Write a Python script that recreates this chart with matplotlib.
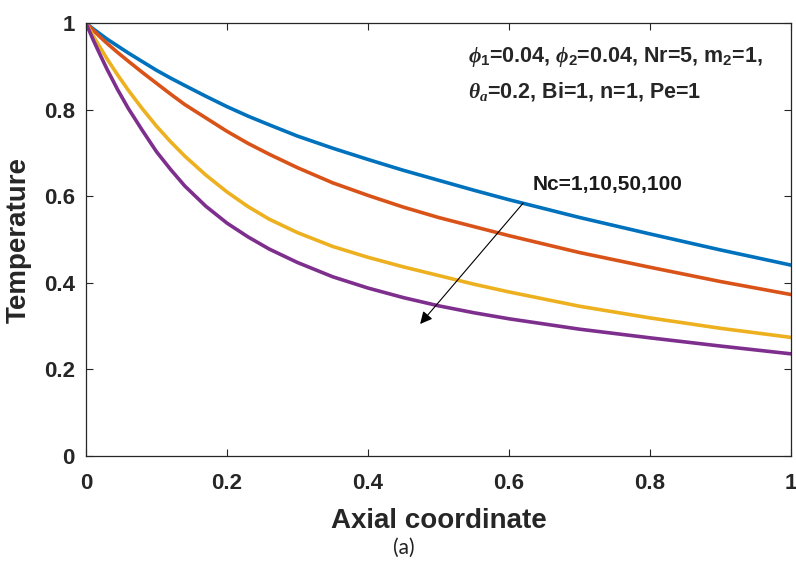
import numpy as np
import matplotlib
matplotlib.use("Agg")
import matplotlib.pyplot as plt

plt.rcParams["font.family"] = ["Liberation Sans", "DejaVu Sans"]
plt.rcParams["font.weight"] = "bold"
plt.rcParams["mathtext.fontset"] = "custom"
plt.rcParams["mathtext.rm"] = "Liberation Sans:bold"
plt.rcParams["mathtext.bf"] = "Liberation Sans:bold"
plt.rcParams["mathtext.it"] = "Liberation Serif:italic"

# axial coordinate samples
axial = [0, 0.01, 0.02, 0.03, 0.045, 0.06, 0.08, 0.1, 0.12, 0.14, 0.17, 0.2,
         0.23, 0.26, 0.3, 0.35, 0.4, 0.45, 0.5, 0.55, 0.6, 0.7, 0.8, 0.9, 1.0]

# temperature profiles for Nc = 1, 10, 50, 100
temp_nc1 = [1, 0.987, 0.975, 0.963, 0.947, 0.931, 0.911, 0.891, 0.873, 0.856, 0.831, 0.807,
            0.785, 0.765, 0.739, 0.711, 0.685, 0.660, 0.637, 0.614, 0.592, 0.551, 0.513, 0.476, 0.441]
temp_nc10 = [1, 0.984, 0.968, 0.953, 0.932, 0.912, 0.886, 0.861, 0.836, 0.812, 0.781, 0.750,
             0.722, 0.697, 0.666, 0.631, 0.602, 0.575, 0.551, 0.530, 0.509, 0.470, 0.436, 0.403, 0.373]
temp_nc50 = [1, 0.971, 0.944, 0.917, 0.880, 0.845, 0.802, 0.762, 0.726, 0.693, 0.649, 0.610,
             0.576, 0.547, 0.516, 0.484, 0.459, 0.437, 0.417, 0.397, 0.379, 0.346, 0.319, 0.295, 0.274]
temp_nc100 = [1, 0.962, 0.927, 0.893, 0.846, 0.803, 0.752, 0.703, 0.662, 0.624, 0.577, 0.538,
              0.506, 0.478, 0.447, 0.414, 0.388, 0.366, 0.347, 0.331, 0.317, 0.293, 0.273, 0.254, 0.236]

profiles = [temp_nc1, temp_nc10, temp_nc50, temp_nc100]
colors = ["#0072BD", "#D95319", "#EDB120", "#7E2F8E"]

ticks = [0, 0.2, 0.4, 0.6, 0.8, 1]
tick_labels = ["0", "0.2", "0.4", "0.6", "0.8", "1"]

fig = plt.figure(figsize=(7.96, 5.63), dpi=100)
ax = fig.add_axes([0.108, 0.19, 0.8857, 0.769])

for temp, c in zip(profiles, colors):
    ax.plot(axial, temp, color=c, lw=2.6, solid_joinstyle="round")

ax.set_xlim(0, 1)
ax.set_ylim(0, 1)
ax.set_xticks(ticks)
ax.set_yticks(ticks)
ax.set_xticklabels(tick_labels)
ax.set_yticklabels(tick_labels)
ax.tick_params(direction="in", top=True, right=True, length=5, width=0.8,
               color="#262626", labelsize=16, labelcolor="#262626")
ax.tick_params(axis="x", pad=12)
ax.tick_params(axis="y", pad=8)
for s in ax.spines.values():
    s.set_color("#262626")
    s.set_linewidth(0.9)

ax.set_xlabel("Axial coordinate", fontsize=20, fontweight="bold", color="#262626")
ax.set_ylabel("Temperature", fontsize=20, fontweight="bold", color="#262626")
ax.xaxis.set_label_coords(0.501, -0.12)
ax.yaxis.set_label_coords(-0.077, 0.5)

ax.text(0.542, 0.911, r"$\phi_{1}$=0.04, $\phi_{2}$=0.04, Nr=5, m$_{2}$=1,",
        fontsize=15.5, fontweight="bold", color="#262626", va="baseline", ha="left")
ax.text(0.542, 0.828, r"$\theta_{a}$=0.2, Bi=1, n=1, Pe=1",
        fontsize=15.5, fontweight="bold", color="#262626", va="baseline", ha="left")

ax.text(0.740, 0.6145, "Nc=1,10,50,100", fontsize=15, fontweight="bold",
        color="#1a1a1a", va="baseline", ha="center")
ax.annotate("", xy=(0.474, 0.305), xytext=(0.62, 0.584),
            arrowprops=dict(arrowstyle="-|>", lw=0.8, color="black",
                            mutation_scale=18, shrinkA=0, shrinkB=0))

fig.text(404 / 796, 1 - 548 / 563, "(a)", fontsize=15, fontweight="normal",
         family="Lato", ha="center", va="center", color="#222222")

fig.savefig("out.png", dpi=100)
